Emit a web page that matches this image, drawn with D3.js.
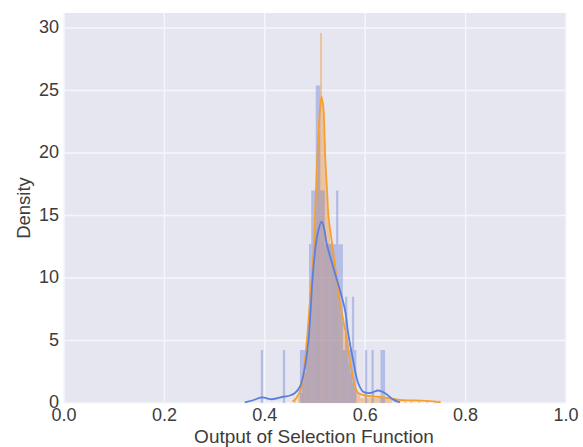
<!DOCTYPE html>
<html>
<head>
<meta charset="utf-8">
<script src="https://cdn.jsdelivr.net/npm/d3@7/dist/d3.min.js"></script>
<style>
  html, body { margin: 0; padding: 0; background: #ffffff; }
  svg { display: block; }
  text { font-family: "Liberation Sans", Arial, sans-serif; }
</style>
</head>
<body>
<svg id="chart" width="583" height="447"></svg>
<script>
// ---------------- data ----------------
const xTicks = [0.0, 0.2, 0.4, 0.6, 0.8, 1.0];
const xTickLabels = ["0.0", "0.2", "0.4", "0.6", "0.8", "1.0"];
const yTicks = [0, 5, 10, 15, 20, 25, 30];
const yTickLabels = ["0", "5", "10", "15", "20", "25", "30"];
const xLabel = "Output of Selection Function";
const yLabel = "Density";

// blue histogram (bin left edge, density), common bin width
const blueBinWidth = 0.0045;
const blueBinLeft = [0.392, 0.436, 0.470, 0.4745, 0.479, 0.4835, 0.488, 0.4925, 0.497,
  0.5015, 0.506, 0.5105, 0.515, 0.5195, 0.524, 0.5285, 0.533, 0.5375, 0.542, 0.5465,
  0.551, 0.5555, 0.560, 0.5645, 0.569, 0.5735, 0.578, 0.5995, 0.6125, 0.6305, 0.635];
const blueDensity = [4.24, 4.24, 4.24, 4.24, 4.24, 4.24, 12.7, 17.0, 17.0,
  25.4, 25.4, 17.0, 17.0, 12.7, 12.7, 12.7, 12.7, 12.7, 17.0, 12.7,
  12.7, 4.24, 8.5, 4.24, 4.24, 8.5, 4.24, 4.24, 4.24, 4.24, 4.24];

// orange histogram (bin left edge, density), common bin width
const orangeBinWidth = 0.004;
const orangeBinLeft = [0.458, 0.466, 0.470, 0.474, 0.478, 0.482, 0.486, 0.490, 0.494,
  0.498, 0.502, 0.506, 0.510, 0.514, 0.518, 0.522, 0.526, 0.530, 0.534, 0.538,
  0.542, 0.546, 0.550, 0.554, 0.558, 0.562, 0.566, 0.570, 0.574, 0.578, 0.582,
  0.586, 0.590, 0.594, 0.598, 0.602, 0.606, 0.610, 0.614, 0.618, 0.622, 0.626,
  0.630, 0.634, 0.638, 0.642, 0.646, 0.650, 0.658, 0.666, 0.678, 0.690, 0.706,
  0.722, 0.738, 0.746];
const orangeDensity = [0.4, 0.8, 0.8, 1.6, 2.4, 4.0, 6.4, 8.0, 11.2,
  14.4, 18.4, 21.6, 29.6, 24.0, 20.8, 16.8, 14.4, 12.8, 12.0, 10.4,
  9.6, 8.8, 7.2, 6.4, 5.6, 4.8, 3.2, 2.4, 1.6, 1.2, 0.8,
  0.8, 0.4, 0.4, 0.8, 0.4, 0.4, 0.4, 0.8, 0.4, 0.4, 0.4,
  0.4, 0.4, 0.4, 0.4, 0.4, 0.4, 0.4, 0.2, 0.2, 0.2, 0.2,
  0.2, 0.2, 0.2];

// KDE curves
const blueKdeX = [0.360, 0.375, 0.394, 0.414, 0.437, 0.450, 0.460, 0.470, 0.480, 0.487,
  0.497, 0.505, 0.513, 0.518, 0.523, 0.536, 0.550, 0.560, 0.566, 0.576, 0.586,
  0.596, 0.610, 0.626, 0.639, 0.656, 0.669];
const blueKdeY = [0.05, 0.2, 0.45, 0.3, 0.5, 0.6, 0.8, 1.3, 2.9, 5.0,
  10.9, 13.5, 14.5, 14.0, 12.8, 10.9, 9.0, 7.4, 5.6, 3.4, 1.6,
  0.9, 0.8, 1.0, 0.8, 0.27, 0.05];

const orangeKdeX = [0.455, 0.463, 0.473, 0.482, 0.490, 0.497, 0.500, 0.505, 0.509, 0.513,
  0.517, 0.520, 0.524, 0.527, 0.536, 0.550, 0.563, 0.573, 0.580, 0.586, 0.600,
  0.625, 0.650, 0.670, 0.700, 0.730, 0.750];
const orangeKdeY = [0.1, 0.4, 1.3, 4.2, 8.2, 12.0, 14.9, 20.0, 23.0, 24.5,
  23.5, 20.0, 17.0, 14.9, 12.2, 8.0, 5.2, 2.6, 1.3, 0.8, 0.6,
  0.5, 0.37, 0.24, 0.2, 0.15, 0.05];

// ---------------- drawing ----------------
const W = 583, H = 447;
const margin = { left: 64, right: 17, top: 13, bottom: 44 };
const svg = d3.select("#chart");

const x = d3.scaleLinear().domain([0, 1]).range([margin.left, W - margin.right]);
const y = d3.scaleLinear().domain([0, 31.2]).range([H - margin.bottom, margin.top]);

const bg = "#e6e6f0";
const blueLine = "#5b7fdc";
const orangeLine = "#f5a030";
const blueFill = "#6a7ed8";
const orangeFill = "#f29a3a";

svg.append("rect")
  .attr("x", x(0)).attr("y", y(31.2))
  .attr("width", x(1) - x(0)).attr("height", y(0) - y(31.2))
  .attr("fill", bg);

const grid = svg.append("g");
grid.selectAll("line.gx").data(xTicks).enter().append("line")
  .attr("x1", d => x(d)).attr("x2", d => x(d))
  .attr("y1", y(0)).attr("y2", y(31.2))
  .attr("stroke", "#f6f6fa").attr("stroke-width", 1.4);
grid.selectAll("line.gy").data(yTicks).enter().append("line")
  .attr("x1", x(0)).attr("x2", x(1))
  .attr("y1", d => y(d)).attr("y2", d => y(d))
  .attr("stroke", "#f6f6fa").attr("stroke-width", 1.4);

svg.append("defs").append("clipPath").attr("id", "plotclip")
  .append("rect").attr("x", x(0)).attr("y", y(31.2))
  .attr("width", x(1) - x(0)).attr("height", y(0) - y(31.2));
const plot = svg.append("g").attr("clip-path", "url(#plotclip)");

// orange histogram
plot.append("g").selectAll("rect").data(orangeBinLeft).enter().append("rect")
  .attr("x", d => x(d))
  .attr("width", d => Math.max(0.8, x(d + orangeBinWidth) - x(d)))
  .attr("y", (d, i) => y(orangeDensity[i]))
  .attr("height", (d, i) => y(0) - y(orangeDensity[i]))
  .attr("fill", orangeFill).attr("fill-opacity", 0.45);

// blue histogram
plot.append("g").selectAll("rect").data(blueBinLeft).enter().append("rect")
  .attr("x", d => x(d))
  .attr("width", d => Math.max(0.8, x(d + blueBinWidth) - x(d)))
  .attr("y", (d, i) => y(blueDensity[i]))
  .attr("height", (d, i) => y(0) - y(blueDensity[i]))
  .attr("fill", blueFill).attr("fill-opacity", 0.4);

const line = d3.line().x(d => x(d[0])).y(d => y(d[1])).curve(d3.curveCatmullRom.alpha(0.5));

plot.append("path")
  .datum(orangeKdeX.map((v, i) => [v, orangeKdeY[i]]))
  .attr("d", line).attr("fill", "none")
  .attr("stroke", orangeLine).attr("stroke-width", 1.8);

plot.append("path")
  .datum(blueKdeX.map((v, i) => [v, blueKdeY[i]]))
  .attr("d", line).attr("fill", "none")
  .attr("stroke", blueLine).attr("stroke-width", 1.8);

// tick labels
const tickColor = "#3c3c3c";
svg.append("g").selectAll("text").data(xTicks).enter().append("text")
  .attr("x", d => x(d)).attr("y", y(0) + 18)
  .attr("text-anchor", "middle")
  .attr("font-size", 18).attr("fill", tickColor)
  .text((d, i) => xTickLabels[i]);

svg.append("g").selectAll("text").data(yTicks).enter().append("text")
  .attr("x", x(0) - 5).attr("y", d => y(d) - 1)
  .attr("dy", "0.35em")
  .attr("text-anchor", "end")
  .attr("font-size", 18).attr("fill", tickColor)
  .text((d, i) => yTickLabels[i]);

svg.append("text")
  .attr("x", (x(0) + x(1)) / 2 - 1).attr("y", 443)
  .attr("text-anchor", "middle")
  .attr("font-size", 19).attr("fill", tickColor)
  .text(xLabel);

svg.append("text")
  .attr("transform", `translate(30, ${(y(0) + y(31.2)) / 2}) rotate(-90)`)
  .attr("text-anchor", "middle")
  .attr("font-size", 18.5).attr("fill", tickColor)
  .text(yLabel);
</script>
</body>
</html>
